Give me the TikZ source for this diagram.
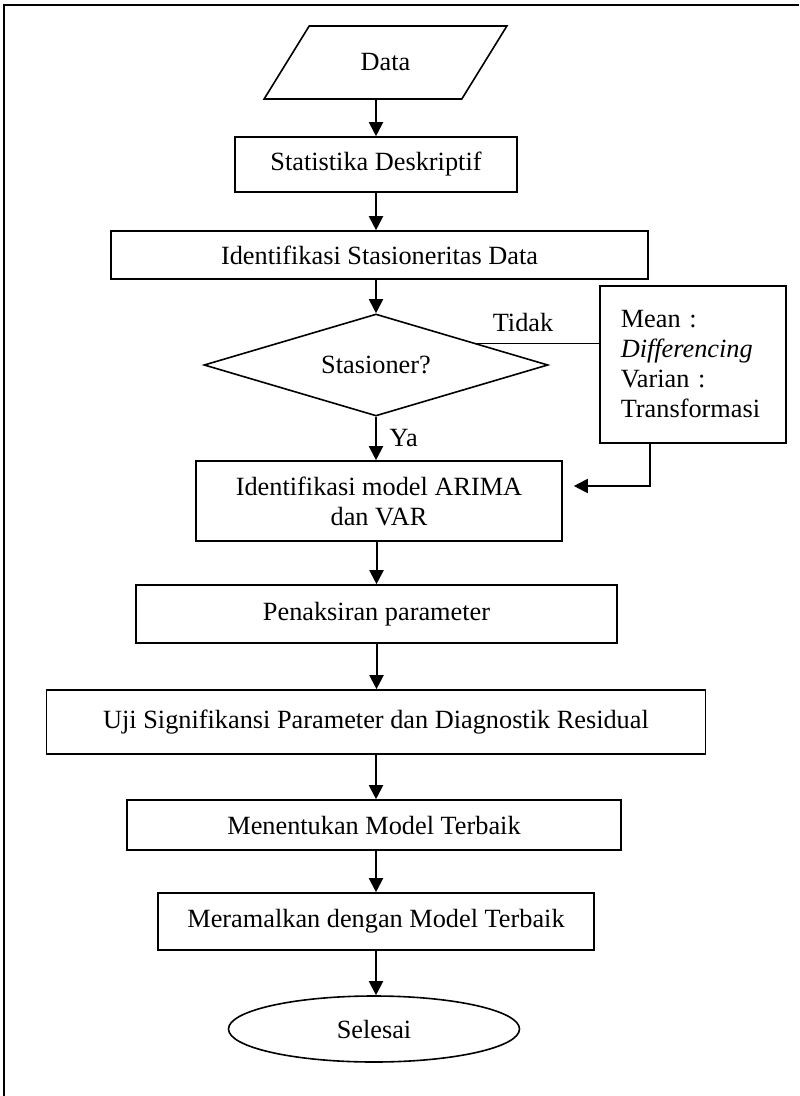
\documentclass[tikz,border=0pt]{standalone}
\usepackage{fontspec}
\setmainfont{Liberation Serif}
\usetikzlibrary{calc,arrows.meta,shapes.geometric}
\tikzset{>={Triangle[length=7pt,width=7pt]}}
\tikzset{
  box/.style={draw,line width=0.8pt,inner sep=0pt,align=center},
  arr/.style={->,line width=1pt}
}

\begin{document}
\begin{tikzpicture}[x=0.5pt,y=-0.5pt,font=\fontsize{13.15}{15}\selectfont]
\useasboundingbox (0,0) rectangle (799,1096);
% Draw page frame
\draw[line width=1pt] (4,1096) -- (4,5) -- (799,5);

% Draw main column of the flowchart
\node[box,trapezium,trapezium left angle=50,trapezium right angle=130,trapezium stretches=true,minimum width=121.5pt,minimum height=36.5pt] (data) at (385.5,62.5) {Data};
\node[box,minimum width=141pt,minimum height=27.5pt] (stat) at (376,164.5) {Statistika Deskriptif};
\node[box,minimum width=268.5pt,minimum height=24pt] (idstas) at (379.5,255) {Identifikasi Stasioneritas Data};
\node[box,diamond,aspect=3.37,minimum width=172pt,minimum height=51pt] (dia) at (376,365) {Stasioner?};
\node[box,minimum width=183pt,minimum height=40pt] (idmodel) at (379,501) {Identifikasi model ARIMA\\dan VAR};
\node[box,minimum width=240.5pt,minimum height=29pt] (taksir) at (376.5,614) {Penaksiran parameter};
\node[box,minimum width=329.5pt,minimum height=32pt] (uji) at (376,722) {Uji Signifikansi Parameter dan Diagnostik Residual};
\node[box,minimum width=247pt,minimum height=25pt] (tentu) at (374,825) {Menentukan Model Terbaik};
\node[box,minimum width=218pt,minimum height=28.5pt] (ramal) at (376,921.5) {Meramalkan dengan Model Terbaik};
\node[box,ellipse,minimum width=145.5pt,minimum height=33pt] (selesai) at (374,1029) {Selesai};

% Draw side box for non-stationary data
\node[box,align=left,anchor=north west,inner xsep=10.5pt,text width=72pt,minimum height=78.5pt] (mean) at (599,285) {Mean :\\\textit{Differencing}\\Varian :\\Transformasi};

% Draw vertical arrows
\draw[arr] (data.south -| stat.north) -- (stat.north);
\draw[arr] (stat.south) -- (stat.south |- idstas.north);
\draw[arr] (idstas.south -| dia.north) -- (dia.north);
\draw[arr] (dia.south) -- node[right,xshift=3pt] (ya) {Ya} (dia.south |- idmodel.north);
\draw[arr] (idmodel.south -| taksir.north) -- (taksir.north);
\draw[arr] (taksir.south) -- (taksir.south |- uji.north);
\draw[arr] (uji.south) -- (uji.south |- tentu.north);
\draw[arr] (tentu.south -| ramal.north) -- (ramal.north);
\draw[arr] (ramal.south) -- (ramal.south |- selesai.north);

% Draw the Tidak branch
\coordinate (tstart) at ($(dia.north)!0.585!(dia.east)$);
\draw[line width=0.8pt] (tstart) -- (tstart -| mean.west);
\node (tidak) at (523,323) {Tidak};

% Draw return arrow into model identification
\coordinate (mfoot) at ($(mean.south west)!0.27!(mean.south east)$);
\draw[arr] (mfoot) |- ([shift={(5.5pt,7.5pt)}]idmodel.east);
\end{tikzpicture}
\end{document}
